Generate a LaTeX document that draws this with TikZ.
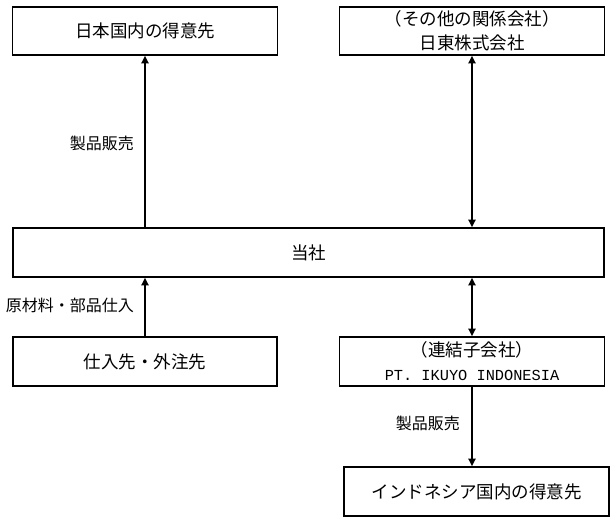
\documentclass[tikz,border=0pt]{standalone}
\usepackage{fontspec}
\setmainfont{Noto Sans CJK JP}
\newfontfamily\latinmono{Liberation Mono}
\usetikzlibrary{arrows.meta}
\begin{document}
\begin{tikzpicture}[x=1pt,y=-1pt,
  box/.style={draw, line width=1.6pt, inner sep=0pt, align=center,
    font=\fontsize{17.5}{24}\selectfont},
  conn/.style={line width=1.9pt, -{Triangle[length=7.5pt,width=7pt]}},
  dconn/.style={line width=1.9pt, {Triangle[length=7.5pt,width=7pt]}-{Triangle[length=7.5pt,width=7pt]}},
  lbl/.style={font=\fontsize{16}{18}\selectfont, anchor=east, inner sep=0pt}]
\useasboundingbox (0,0) rectangle (616,523);
\node[box, minimum width=265pt, minimum height=48pt] (a) at (145,31) {日本国内の得意先};
\node[box, minimum width=265pt, minimum height=48pt] (b) at (472,31) {（その他の関係会社）\\日東株式会社};
\node[box, minimum width=591pt, minimum height=49pt] (t) at (308.5,252.5) {当社};
\node[box, minimum width=264pt, minimum height=49pt] (c) at (145,361.5) {仕入先・外注先};
\node[box, minimum width=265pt, minimum height=49pt] (d) at (472,361.5) {（連結子会社）\\{\latinmono\fontsize{15.3}{24}\selectfont PT. IKUYO INDONESIA}};
\node[box, minimum width=265pt, minimum height=49pt] (e) at (476.5,491.5) {インドネシア国内の得意先};
\draw[conn] (a.south |- t.north) -- (a.south);
\draw[dconn] (b.south) -- (b.south |- t.north);
\draw[conn] (c.north) -- (c.north |- t.south);
\draw[dconn] (d.north |- t.south) -- (d.north);
\draw[conn] (d.south) -- (d.south |- e.north);
\node[lbl] (l1) at (134,143) {製品販売};
\node[lbl] (l2) at (134,305) {原材料・部品仕入};
\node[lbl] (l3) at (460,423) {製品販売};
\end{tikzpicture}
\end{document}
